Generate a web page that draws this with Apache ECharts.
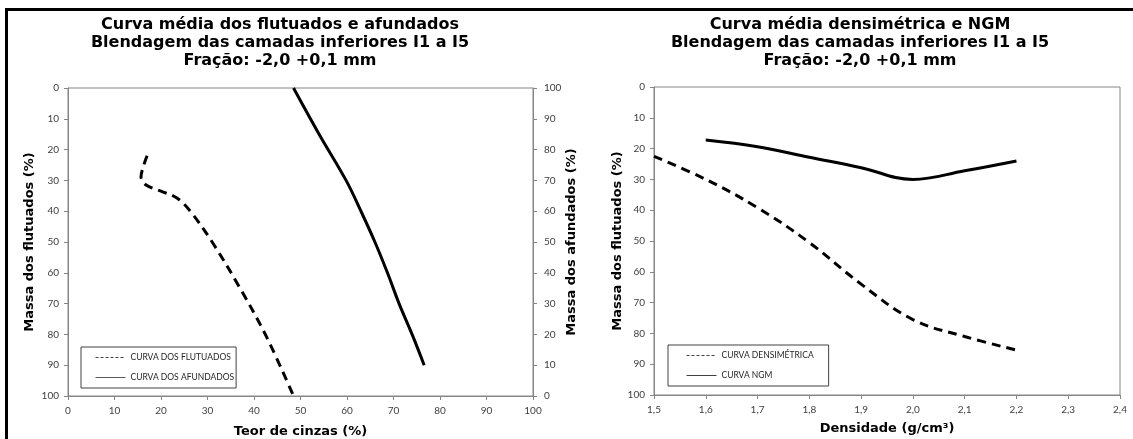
<!DOCTYPE html>
<html>
<head>
<meta charset="utf-8">
<title>Curvas de lavabilidade</title>
<script src="https://cdn.jsdelivr.net/npm/echarts@6/dist/echarts.min.js"></script>
<style>
    html, body { margin: 0; padding: 0; background: #fff; }
    #chartMain { width: 1133px; height: 439px; }
</style>
</head>
<body>
<div id="chartMain"></div>
<script>
// curva dos flutuados: teor de cinzas (%) x massa dos flutuados (%)
var flutTeor  = [17.0, 16.2, 15.7, 16.8, 20.0, 23.5, 26.3, 31.0, 37.0, 42.6, 48.5];
var flutMassa = [22, 25.5, 28.8, 31.5, 33.5, 35.8, 40, 50, 65, 80.5, 100];
// curva dos afundados: teor de cinzas (%) x massa dos afundados (%)
var afunTeor  = [48.5, 54.0, 59.8, 63.0, 66.0, 68.7, 71.2, 74.0, 76.6];
var afunMassa = [100, 85, 70, 60, 50, 40, 30, 20, 10];
// curva densimetrica: densidade (g/cm3) x massa dos flutuados (%)
var densDensidade = [1.5, 1.6, 1.7, 1.8, 1.9, 2.0, 2.1, 2.2];
var densMassa     = [22.5, 30, 39.2, 50.5, 64, 75.5, 81, 85.4];
// curva NGM
var ngmDensidade = [1.6, 1.7, 1.8, 1.9, 2.0, 2.1, 2.2];
var ngmMassa     = [17.2, 19.4, 22.8, 26.2, 30, 27.2, 24];

var AXIS_COLOR = '#868686';
var LABEL_COLOR = '#404040';

var main = {
    init: function () {
        var myChart = echarts.init(document.getElementById('chartMain'));
        myChart.setOption(main.get_option());
    },
    zip: function (xs, ys) {
        var out = [];
        for (var i = 0; i < xs.length; i++) {
            out.push([xs[i], ys[i]]);
        }
        return out;
    },
    axis: function (opt) {
        var base = {
            type: 'value',
            nameLocation: 'middle',
            nameTextStyle: { fontFamily: 'DejaVu Sans', fontWeight: 'bold', fontSize: 13, color: '#000' },
            axisLine: { show: true, onZero: false, lineStyle: { color: AXIS_COLOR, width: 1 } },
            axisTick: { show: true, length: 4, lineStyle: { color: AXIS_COLOR } },
            axisLabel: { fontFamily: 'Lato', fontSize: 10, color: LABEL_COLOR },
            splitLine: { show: false }
        };
        return Object.assign(base, opt);
    },
    legend: function (left, top, padding, items) {
        return {
            left: left,
            top: top,
            orient: 'vertical',
            selectedMode: false,
            borderColor: '#404040',
            borderWidth: 1,
            padding: padding,
            itemWidth: 30,
            itemHeight: 10,
            itemGap: 11,
            itemStyle: { opacity: 0 },   // sem simbolo, so a linha
            textStyle: { fontFamily: 'Lato', fontSize: 8.5, color: '#262626' },
            data: items
        };
    },
    get_option: function () {
        var titleStyle = { fontFamily: 'DejaVu Sans', fontWeight: 'bold', fontSize: 16, lineHeight: 18, color: '#000' };
        return {
            animation: false,
            backgroundColor: '#fff',
            title: [{
                text: 'Curva média dos flutuados e afundados\nBlendagem das camadas inferiores I1 a I5\nFração: -2,0 +0,1 mm',
                left: 280, top: 16, padding: 0, textAlign: 'center', textStyle: titleStyle
            }, {
                text: 'Curva média densimétrica e NGM\nBlendagem das camadas inferiores I1 a I5\nFração: -2,0 +0,1 mm',
                left: 860, top: 16, padding: 0, textAlign: 'center', textStyle: titleStyle
            }],
            grid: [
                { left: 68, right: 600, top: 88, bottom: 43, show: true, borderColor: AXIS_COLOR, borderWidth: 1,
                  outerBoundsMode: 'none' },
                { left: 654, right: 13, top: 87, bottom: 44, show: true, borderColor: AXIS_COLOR, borderWidth: 1,
                  outerBoundsMode: 'none' }
            ],
            xAxis: [
                main.axis({ gridIndex: 0, min: 0, max: 100, interval: 10, name: 'Teor de cinzas (%)', nameGap: 29,
                    axisLabel: { margin: 10, fontFamily: 'Lato', fontSize: 10, color: LABEL_COLOR } }),
                main.axis({ gridIndex: 1, min: 1.5, max: 2.4, interval: 0.1, name: 'Densidade (g/cm³)', nameGap: 27,
                    axisLabel: { margin: 10, fontFamily: 'Lato', fontSize: 10, color: LABEL_COLOR,
                        formatter: function (v) { return v.toFixed(1).replace('.', ','); } } })
            ],
            yAxis: [
                main.axis({ gridIndex: 0, inverse: true, min: 0, max: 100, interval: 10, name: 'Massa dos flutuados (%)',
                    nameRotate: 90, nameGap: 32, axisLabel: { margin: 9, fontFamily: 'Lato', fontSize: 10, color: LABEL_COLOR } }),
                main.axis({ gridIndex: 0, position: 'right', min: 0, max: 100, interval: 10, name: 'Massa dos afundados (%)',
                    nameRotate: 90, nameGap: 30, axisLabel: { margin: 11, fontFamily: 'Lato', fontSize: 10, color: LABEL_COLOR } }),
                main.axis({ gridIndex: 1, inverse: true, min: 0, max: 100, interval: 10, name: 'Massa dos flutuados (%)',
                    nameRotate: 90, nameGap: 28, axisLabel: { margin: 9, fontFamily: 'Lato', fontSize: 10, color: LABEL_COLOR } })
            ],
            legend: [
                main.legend(81, 347, [6, 2, 6, 14], [
                    { name: 'CURVA DOS FLUTUADOS', lineStyle: { type: [3, 2], width: 1, color: '#404040' } },
                    { name: 'CURVA DOS AFUNDADOS', lineStyle: { type: 'solid', width: 1, color: '#595959' } }
                ]),
                main.legend(668, 345, [6, 15, 6, 18], [
                    { name: 'CURVA DENSIMÉTRICA', lineStyle: { type: [3, 2], width: 1, color: '#404040' } },
                    { name: 'CURVA NGM', lineStyle: { type: 'solid', width: 1, color: '#404040' } }
                ])
            ],
            series: [{
                name: 'CURVA DOS FLUTUADOS', type: 'line', xAxisIndex: 0, yAxisIndex: 0,
                data: main.zip(flutTeor, flutMassa), smooth: 0.35, symbol: 'none',
                lineStyle: { color: '#000', width: 3, type: [9, 6] }
            }, {
                name: 'CURVA DOS AFUNDADOS', type: 'line', xAxisIndex: 0, yAxisIndex: 1,
                data: main.zip(afunTeor, afunMassa), smooth: 0.4, symbol: 'none',
                lineStyle: { color: '#000', width: 3 }
            }, {
                name: 'CURVA DENSIMÉTRICA', type: 'line', xAxisIndex: 1, yAxisIndex: 2,
                data: main.zip(densDensidade, densMassa), smooth: 0.4, symbol: 'none',
                lineStyle: { color: '#000', width: 3, type: [9, 6] }
            }, {
                name: 'CURVA NGM', type: 'line', xAxisIndex: 1, yAxisIndex: 2,
                data: main.zip(ngmDensidade, ngmMassa), smooth: 0.4, symbol: 'none',
                lineStyle: { color: '#000', width: 3 }
            }],
            // moldura preta (topo e lado esquerdo)
            graphic: [{
                type: 'rect',
                shape: { x: 6.5, y: 9.5, width: 1200, height: 500 },
                style: { fill: 'none', stroke: '#000', lineWidth: 3 },
                silent: true
            }]
        };
    }
};
main.init();
</script>
</body>
</html>
